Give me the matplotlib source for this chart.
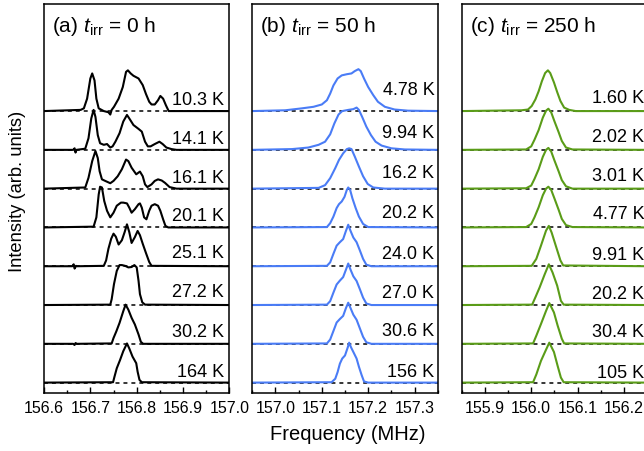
import matplotlib
matplotlib.use('Agg')
import matplotlib.pyplot as plt
import matplotlib.transforms as mtransforms
import numpy as np

plt.rcParams['font.family'] = ['Liberation Sans', 'DejaVu Sans']
plt.rcParams['mathtext.fontset'] = 'custom'
plt.rcParams['mathtext.rm'] = 'Liberation Sans'
plt.rcParams['mathtext.it'] = 'Liberation Sans:italic'

# ---- (a) t_irr = 0 h ----
temps_a = ['10.3 K', '14.1 K', '16.1 K', '20.1 K', '25.1 K', '27.2 K', '30.2 K', '164 K']
freq_a = [
    [156.600, 156.679, 156.686, 156.693, 156.700, 156.704, 156.709, 156.713, 156.718, 156.729,
     156.739, 156.743, 156.746, 156.751, 156.761, 156.770, 156.777, 156.781, 156.787, 156.793,
     156.804, 156.813, 156.820, 156.827, 156.832, 156.839, 156.846, 156.851, 156.857, 156.863,
     156.869, 157.000],
    [156.600, 156.663, 156.666, 156.668, 156.670, 156.689, 156.696, 156.702, 156.707, 156.711,
     156.716, 156.721, 156.729, 156.736, 156.743, 156.748, 156.754, 156.763, 156.771, 156.779,
     156.784, 156.793, 156.804, 156.811, 156.818, 156.824, 156.830, 156.839, 156.849, 156.856,
     156.864, 156.875, 156.886, 157.000],
    [156.600, 156.689, 156.696, 156.704, 156.711, 156.716, 156.720, 156.725, 156.732, 156.743,
     156.750, 156.759, 156.768, 156.777, 156.782, 156.789, 156.799, 156.807, 156.813, 156.818,
     156.823, 156.832, 156.839, 156.846, 156.854, 156.861, 156.871, 156.886, 157.000],
    [156.600, 156.707, 156.713, 156.718, 156.721, 156.725, 156.730, 156.736, 156.743, 156.750,
     156.757, 156.766, 156.771, 156.779, 156.784, 156.789, 156.796, 156.804, 156.807, 156.811,
     156.816, 156.821, 156.827, 156.832, 156.839, 156.846, 156.851, 156.857, 156.862, 156.868,
     157.000],
    [156.600, 156.661, 156.664, 156.666, 156.669, 156.671, 156.729, 156.734, 156.739, 156.745,
     156.750, 156.755, 156.761, 156.768, 156.774, 156.779, 156.784, 156.789, 156.796, 156.802,
     156.807, 156.813, 156.820, 156.827, 156.832, 157.000],
    [156.600, 156.743, 156.746, 156.751, 156.757, 156.763, 156.768, 156.775, 156.782, 156.789,
     156.795, 156.800, 156.804, 156.807, 156.812, 156.818, 157.000],
    [156.600, 156.663, 156.666, 156.668, 156.671, 156.746, 156.750, 156.756, 156.763, 156.771,
     156.776, 156.782, 156.789, 156.796, 156.804, 156.809, 156.814, 157.000],
    [156.600, 156.749, 156.752, 156.757, 156.764, 156.771, 156.779, 156.784, 156.791, 156.799,
     156.802, 156.806, 156.811, 157.000],
]
int_a = [
    [0, 0.03, 0.07, 0.32, 0.84, 0.97, 0.79, 0.32, 0.07, 0, -0.03, -0.09, 0.03, 0.11, 0.32, 0.62,
     1.01, 1.05, 0.97, 0.91, 0.84, 0.67, 0.44, 0.24, 0.17, 0.17, 0.28, 0.39, 0.32, 0.15, 0, 0],
    [0, 0, 0.04, -0.07, 0, 0.03, 0.30, 0.81, 1.03, 0.85, 0.38, 0.17, 0.13, 0.15, 0.06, 0.09,
     0.21, 0.43, 0.73, 0.90, 0.81, 0.64, 0.54, 0.47, 0.21, 0.09, 0.09, 0.15, 0.21, 0.15, 0.06,
     0.02, 0, 0],
    [0, 0.03, 0.28, 0.71, 0.97, 0.79, 0.45, 0.24, 0.20, 0.14, 0.20, 0.32, 0.50, 0.75, 0.71,
     0.54, 0.37, 0.44, 0.32, 0.11, 0.04, 0.11, 0.20, 0.24, 0.21, 0.15, 0.04, 0, 0],
    [0, 0.02, 0.26, 0.85, 1.05, 1.03, 0.68, 0.43, 0.26, 0.38, 0.56, 0.64, 0.64, 0.62, 0.51,
     0.38, 0.47, 0.60, 0.62, 0.51, 0.26, 0.21, 0.43, 0.56, 0.60, 0.56, 0.43, 0.21, 0.04, 0, 0],
    [0, 0, 0.05, -0.06, 0.01, 0, 0.01, 0.15, 0.45, 0.71, 0.84, 0.76, 0.56, 0.67, 0.88, 1.08,
     0.88, 0.60, 0.75, 0.91, 0.80, 0.58, 0.34, 0.11, 0.01, 0],
    [0, 0.01, 0.15, 0.54, 0.88, 1.03, 1.03, 1.01, 0.97, 0.98, 1.03, 0.97, 0.62, 0.28, 0.07,
     0.01, 0],
    [0, 0, -0.03, 0.02, 0, 0.01, 0.15, 0.32, 0.54, 0.84, 1.01, 0.88, 0.67, 0.50, 0.24, 0.05,
     0, 0],
    [0, 0.01, 0.15, 0.37, 0.58, 0.81, 1.01, 0.88, 0.67, 0.50, 0.28, 0.07, 0.01, 0],
]

# ---- (b) t_irr = 50 h ----
temps_b = ['4.78 K', '9.94 K', '16.2 K', '20.2 K', '24.0 K', '27.0 K', '30.6 K', '156 K']
freq_b = [
    [156.950, 157.021, 157.057, 157.082, 157.100, 157.111, 157.118, 157.125, 157.134, 157.143,
     157.154, 157.164, 157.171, 157.179, 157.184, 157.191, 157.200, 157.211, 157.221, 157.236,
     157.257, 157.286, 157.350],
    [156.950, 157.036, 157.071, 157.093, 157.107, 157.118, 157.127, 157.136, 157.144, 157.157,
     157.168, 157.175, 157.180, 157.187, 157.196, 157.206, 157.216, 157.229, 157.250, 157.279,
     157.350],
    [156.950, 157.093, 157.107, 157.118, 157.129, 157.137, 157.146, 157.154, 157.159, 157.164,
     157.171, 157.180, 157.189, 157.199, 157.211, 157.236, 157.350],
    [156.950, 157.111, 157.118, 157.125, 157.132, 157.137, 157.143, 157.149, 157.154, 157.157,
     157.161, 157.166, 157.173, 157.180, 157.189, 157.200, 157.350],
    [156.950, 157.111, 157.118, 157.125, 157.132, 157.139, 157.146, 157.152, 157.157, 157.162,
     157.168, 157.175, 157.182, 157.189, 157.196, 157.207, 157.350],
    [156.950, 157.111, 157.118, 157.125, 157.132, 157.139, 157.146, 157.152, 157.157, 157.162,
     157.168, 157.175, 157.182, 157.189, 157.196, 157.207, 157.350],
    [156.950, 157.111, 157.118, 157.125, 157.132, 157.139, 157.146, 157.152, 157.157, 157.162,
     157.168, 157.175, 157.182, 157.189, 157.196, 157.207, 157.350],
    [156.950, 157.121, 157.129, 157.134, 157.139, 157.144, 157.150, 157.156, 157.159, 157.163,
     157.168, 157.175, 157.180, 157.186, 157.191, 157.200, 157.350],
]
int_b = [
    [0, 0.02, 0.07, 0.11, 0.17, 0.28, 0.45, 0.66, 0.84, 0.92, 0.95, 0.97, 1.03, 1.08, 1.03,
     0.84, 0.62, 0.41, 0.24, 0.11, 0.04, 0.01, 0],
    [0, 0.02, 0.06, 0.13, 0.21, 0.40, 0.68, 0.91, 1.00, 1.03, 1.05, 1.09, 1.03, 0.85, 0.60,
     0.38, 0.21, 0.11, 0.04, 0.01, 0],
    [0, 0.02, 0.09, 0.27, 0.53, 0.74, 0.91, 1.02, 1.04, 1.02, 0.83, 0.57, 0.32, 0.12, 0.03,
     0, 0],
    [0, 0.01, 0.11, 0.28, 0.50, 0.60, 0.67, 0.79, 0.97, 1.03, 0.97, 0.75, 0.50, 0.28, 0.09,
     0.01, 0],
    [0, 0.01, 0.10, 0.32, 0.53, 0.62, 0.70, 0.91, 1.07, 0.91, 0.74, 0.62, 0.41, 0.19, 0.04,
     0, 0],
    [0, 0.01, 0.10, 0.32, 0.53, 0.63, 0.72, 0.91, 1.07, 0.91, 0.74, 0.62, 0.41, 0.19, 0.04,
     0, 0],
    [0, 0.01, 0.11, 0.33, 0.55, 0.64, 0.72, 0.92, 1.06, 0.92, 0.75, 0.62, 0.40, 0.18, 0.04,
     0, 0],
    [0, 0.01, 0.10, 0.27, 0.49, 0.62, 0.70, 0.91, 1.03, 0.91, 0.79, 0.62, 0.41, 0.19, 0.03,
     0, 0],
]

# ---- (c) t_irr = 250 h ----
temps_c = ['1.60 K', '2.02 K', '3.01 K', '4.77 K', '9.91 K', '20.2 K', '30.4 K', '105 K']
freq_c = [
    [155.850, 155.979, 155.993, 156.001, 156.009, 156.016, 156.023, 156.030, 156.036, 156.041,
     156.049, 156.056, 156.063, 156.071, 156.082, 156.096, 156.250],
    [155.850, 155.989, 156.000, 156.007, 156.016, 156.025, 156.032, 156.037, 156.043, 156.050,
     156.059, 156.066, 156.075, 156.089, 156.250],
    [155.850, 155.989, 156.000, 156.007, 156.016, 156.025, 156.032, 156.037, 156.043, 156.050,
     156.059, 156.066, 156.075, 156.089, 156.250],
    [155.850, 155.989, 156.000, 156.007, 156.016, 156.025, 156.032, 156.037, 156.043, 156.050,
     156.059, 156.066, 156.075, 156.089, 156.250],
    [155.850, 156.001, 156.011, 156.021, 156.032, 156.038, 156.044, 156.054, 156.063, 156.069,
     156.250],
    [155.850, 156.002, 156.009, 156.018, 156.029, 156.038, 156.046, 156.056, 156.064, 156.070,
     156.250],
    [155.850, 156.004, 156.011, 156.021, 156.032, 156.039, 156.049, 156.057, 156.066, 156.071,
     156.250],
    [155.850, 156.004, 156.011, 156.021, 156.032, 156.039, 156.049, 156.057, 156.064, 156.070,
     156.250],
]
int_c = [
    [0, 0.02, 0.04, 0.13, 0.30, 0.51, 0.77, 0.98, 1.05, 0.98, 0.74, 0.49, 0.26, 0.09, 0.03, 0, 0],
    [0, 0.01, 0.09, 0.26, 0.51, 0.83, 1.01, 1.06, 0.97, 0.74, 0.46, 0.23, 0.06, 0.01, 0],
    [0, 0.01, 0.08, 0.25, 0.50, 0.82, 1.00, 1.05, 0.96, 0.73, 0.45, 0.22, 0.06, 0, 0],
    [0, 0.01, 0.09, 0.26, 0.52, 0.83, 1.00, 1.05, 0.97, 0.75, 0.46, 0.22, 0.06, 0.01, 0],
    [0, 0.01, 0.19, 0.53, 0.92, 1.04, 0.87, 0.49, 0.15, 0.02, 0],
    [0, 0.01, 0.20, 0.45, 0.79, 1.05, 0.84, 0.50, 0.11, 0.01, 0],
    [0, 0.01, 0.21, 0.51, 0.85, 1.05, 0.81, 0.47, 0.13, 0.01, 0],
    [0, 0.01, 0.21, 0.56, 0.85, 1.03, 0.79, 0.43, 0.13, 0.01, 0],
]

# label heights above each baseline (in trace units), layout only
dy_a = [0.15, 0.15, 0.15, 0.17, 0.20, 0.20, 0.18, 0.15]
dy_b = [0.41, 0.30, 0.27, 0.24, 0.19, 0.19, 0.19, 0.15]
dy_c = [0.21, 0.21, 0.20, 0.22, 0.17, 0.15, 0.17, 0.13]

fig = plt.figure(figsize=(6.44, 4.51), dpi=100)
W, H = 644.0, 451.0
bot, top = 392.7, 4.0
ax_w = 185.4


def make_ax(left_px):
    return fig.add_axes([left_px / W, 1 - bot / H, ax_w / W, (bot - top) / H])


def panel(ax, freqs, ints, temps, dys, color, xlim, majors, title, tx):
    n = len(freqs)
    trans = mtransforms.blended_transform_factory(ax.transAxes, ax.transData)
    for i in range(n):
        off = n - 1 - i
        ax.axhline(off, color='k', ls=(0, (2.6, 2.6)), lw=1.1, zorder=1)
        ax.plot(freqs[i], np.array(ints[i]) + off, color=color, lw=1.5, zorder=2)
        ax.text(tx, off + dys[i], temps[i], transform=trans, ha='right',
                va='baseline', fontsize=13)
    ax.set_xlim(*xlim)
    ax.set_ylim(-0.26, 9.76)
    ax.set_yticks([])
    ax.set_xticks(majors)
    ax.set_xticklabels(['%.1f' % v for v in majors])
    ax.set_xticks(np.arange(xlim[0], xlim[1] + 1e-6, 0.05), minor=True)
    ax.tick_params(axis='x', which='major', direction='in', length=4.5, width=1.0,
                   labelsize=11.5, pad=6)
    ax.tick_params(axis='x', which='minor', direction='in', length=2.5, width=1.0)
    for s in ax.spines.values():
        s.set_linewidth(1.1)
    ax.text(0.043, 0.928, title, transform=ax.transAxes, fontsize=15,
            ha='left', va='baseline')


ax1 = make_ax(44.0)
ax2 = make_ax(252.3)
ax3 = make_ax(461.7)

panel(ax1, freq_a, int_a, temps_a, dy_a, 'black', (156.6, 157.0),
      [156.6, 156.7, 156.8, 156.9, 157.0], r'(a) $t_{\mathrm{irr}}$ = 0 h', 0.969)
panel(ax2, freq_b, int_b, temps_b, dy_b, '#4a7cf6', (156.95, 157.35),
      [157.0, 157.1, 157.2, 157.3], r'(b) $t_{\mathrm{irr}}$ = 50 h', 0.982)
panel(ax3, freq_c, int_c, temps_c, dy_c, '#5a9c18', (155.85, 156.25),
      [155.9, 156.0, 156.1, 156.2], r'(c) $t_{\mathrm{irr}}$ = 250 h', 0.984)

fig.text(348 / W, 1 - 434 / H, 'Frequency (MHz)', ha='center', va='center', fontsize=14.5)
fig.text(18 / W, 1 - 191.5 / H, 'Intensity (arb. units)', ha='center', va='center',
         rotation=90, fontsize=13.2)

fig.savefig('out.png', dpi=100)
